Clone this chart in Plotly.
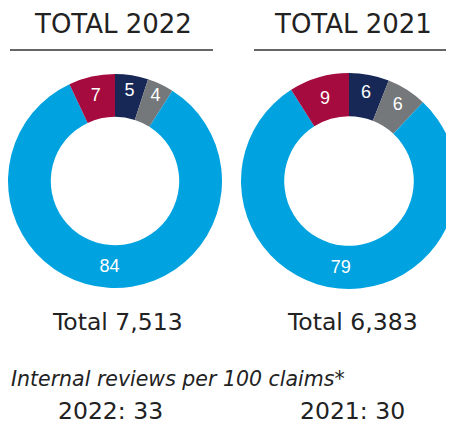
import plotly.graph_objects as go

W, H = 454, 426
OFF = 8  # page body margin offset

# Data
categories = ["Navy", "Grey", "Blue", "Red"]
values_2022 = [5, 4, 84, 7]
values_2021 = [6, 6, 79, 9]
colors = ["#172857", "#75787B", "#00A3E0", "#A50B3E"]
titles = ["TOTAL 2022", "TOTAL 2021"]
totals = ["Total 7,513", "Total 6,383"]
reviews_label = "Internal reviews per 100 claims*"
reviews = ["2022: 33", "2021: 30"]

FONT = "DejaVu Sans"


def px_x(v):
    return (v - OFF) / W


def px_y(v):
    return 1 - (v - OFF) / H


fig = go.Figure()

pies = [
    (values_2022, [8, 222], [74, 288]),
    (values_2021, [241, 457], [73, 289]),
]
for vals, (x0, x1), (y0, y1) in pies:
    fig.add_trace(go.Pie(
        labels=categories,
        values=vals,
        marker=dict(colors=colors, line=dict(width=0)),
        hole=0.6,
        sort=False,
        direction="clockwise",
        rotation=0,
        textinfo="value",
        textposition="inside",
        insidetextorientation="horizontal",
        insidetextfont=dict(color="white", size=18, family="Liberation Sans"),
        domain=dict(x=[px_x(x0), px_x(x1)], y=[px_y(y1), px_y(y0)]),
        hoverinfo="skip",
        showlegend=False,
    ))

annotations = []
shapes = []
# titles + underlines
for t, cx, (lx0, lx1) in zip(titles, [113, 353], [(10, 213), (254, 462)]):
    annotations.append(dict(text=t, x=px_x(cx), y=px_y(24), xref="paper", yref="paper",
                            showarrow=False, xanchor="center", yanchor="middle",
                            font=dict(family=FONT, size=26, color="#222222")))
    shapes.append(dict(type="line", xref="paper", yref="paper",
                       x0=px_x(lx0), x1=px_x(lx1), y0=px_y(50), y1=px_y(50),
                       line=dict(color="#333333", width=1.5)))

for t, cx in zip(totals, [117, 352]):
    annotations.append(dict(text=t, x=px_x(cx), y=px_y(322), xref="paper", yref="paper",
                            showarrow=False, xanchor="center", yanchor="middle",
                            font=dict(family=FONT, size=23.5, color="#222222")))

annotations.append(dict(text="<i>" + reviews_label + "</i>", x=px_x(9), y=px_y(379),
                        xref="paper", yref="paper", showarrow=False,
                        xanchor="left", yanchor="middle",
                        font=dict(family=FONT, size=20.5, color="#222222")))

for t, cx in zip(reviews, [110, 352]):
    annotations.append(dict(text=t, x=px_x(cx), y=px_y(411), xref="paper", yref="paper",
                            showarrow=False, xanchor="center", yanchor="middle",
                            font=dict(family=FONT, size=23.5, color="#222222")))

fig.update_layout(
    width=W, height=H,
    margin=dict(l=0, r=0, t=0, b=0),
    paper_bgcolor="white",
    plot_bgcolor="white",
    annotations=annotations,
    shapes=shapes,
    showlegend=False,
)

fig.write_html("out.html")
